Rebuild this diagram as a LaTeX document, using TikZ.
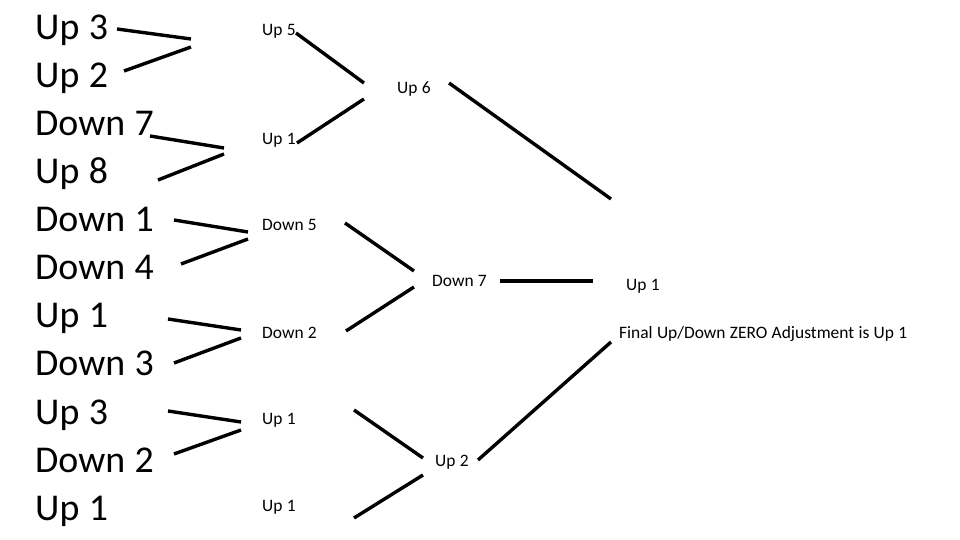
\documentclass[tikz,border=0pt]{standalone}
\usepackage{fontspec}
\setmainfont{Carlito}[WordSpace=1.1]
\begin{document}
\begin{tikzpicture}[x=1bp,y=-1bp,
  big/.style={anchor=base west,inner sep=0pt,font=\fontsize{38}{44}\selectfont},
  small/.style={anchor=base west,inner sep=0pt,font=\fontsize{17.5}{20}\selectfont},
  link/.style={line width=3.4bp}]
\useasboundingbox[fill=white] (0,0) rectangle (960,540);
% left column
\node[big] (a1) at (35,40) {Up 3};
\node[big] (a2) at (35,88) {Up 2};
\node[big] (a3) at (35,136) {Down 7};
\node[big] (a4) at (35,184) {Up 8};
\node[big] (a5) at (35,232) {Down 1};
\node[big] (a6) at (35,280) {Down 4};
\node[big] (a7) at (35,328) {Up 1};
\node[big] (a8) at (35,376) {Down 3};
\node[big] (a9) at (35,424) {Up 3};
\node[big] (a10) at (35,472) {Down 2};
\node[big] (a11) at (35,520) {Up 1};
% second column
\node[small] (b1) at (262,36) {Up 5};
\node[small] (b2) at (262,144.5) {Up 1};
\node[small] (b3) at (262,231) {Down 5};
\node[small] (b4) at (262,339) {Down 2};
\node[small] (b5) at (262,424) {Up 1};
\node[small] (b6) at (262,511) {Up 1};
% third column
\node[small] (c1) at (397,93.5) {Up 6};
\node[small] (c2) at (432,287) {Down 7};
\node[small] (c3) at (435,466) {Up 2};
% right
\node[small] (d1) at (626,291) {Up 1};
\node[small] (d2) at (619,338.5) {Final Up/Down ZERO Adjustment is Up 1};
% line end coordinates
\coordinate (l1s) at (117,29);  \coordinate (l1e) at (191,39);
\coordinate (l2s) at (124,71);  \coordinate (l2e) at (191,47);
\coordinate (l3s) at (150,136); \coordinate (l3e) at (224,148);
\coordinate (l4s) at (158,180); \coordinate (l4e) at (224,154);
\coordinate (l5s) at (174,220); \coordinate (l5e) at (248,232);
\coordinate (l6s) at (181,264); \coordinate (l6e) at (248,239);
\coordinate (l7s) at (168,319); \coordinate (l7e) at (241,330);
\coordinate (l8s) at (174,363); \coordinate (l8e) at (241,338);
\coordinate (l9s) at (168,411); \coordinate (l9e) at (241,422);
\coordinate (l10s) at (174,454); \coordinate (l10e) at (241,430);
\coordinate (m1s) at (296,33);  \coordinate (m1e) at (364,83);
\coordinate (m2s) at (297,143); \coordinate (m2e) at (364,99);
\coordinate (m3s) at (345,223); \coordinate (m3e) at (414,271);
\coordinate (m4s) at (346,331); \coordinate (m4e) at (414,287);
\coordinate (m5s) at (354,410); \coordinate (m5e) at (423,458);
\coordinate (m6s) at (354,518); \coordinate (m6e) at (423,475);
\coordinate (r1s) at (449,83);  \coordinate (r1e) at (611,199);
\coordinate (r2s) at (500,281); \coordinate (r2e) at (593,281);
\coordinate (r3s) at (478,460); \coordinate (r3e) at (611,342);
\foreach \p in {l1,l2,l3,l4,l5,l6,l7,l8,l9,l10,m1,m2,m3,m4,m5,m6,r1,r2,r3}
  \draw[link] (\p s) -- (\p e);
\end{tikzpicture}
\end{document}
